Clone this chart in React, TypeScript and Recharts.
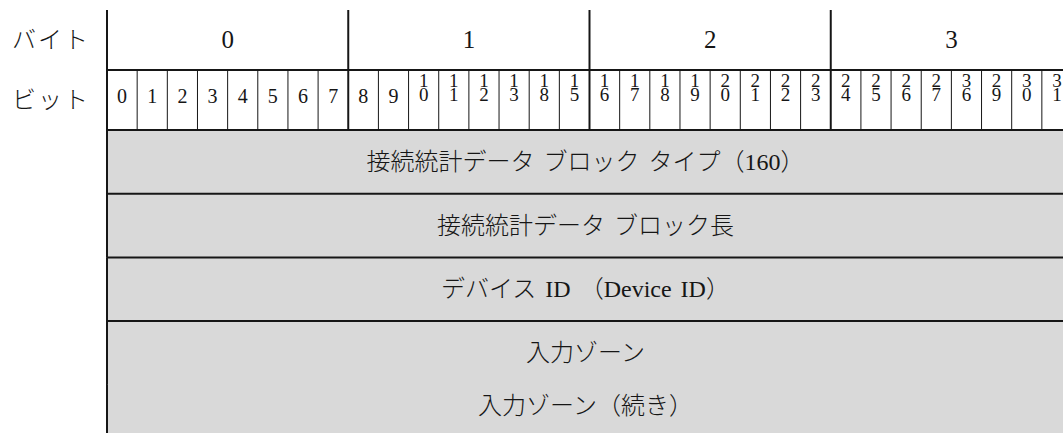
import React from 'react'
import { BarChart, Bar, XAxis, YAxis } from 'recharts'

// header rows: byte numbers and bit numbers (labels as printed, incl. the typos 18 / 36)
const HEADER_NAMES = ['バイト', 'ビット']
const BYTE_LABELS = ['0', '1', '2', '3']
const BIT_LABELS = [
  '0', '1', '2', '3', '4', '5', '6', '7',
  '8', '9', '10', '11', '12', '13', '18', '15',
  '16', '17', '18', '19', '20', '21', '22', '23',
  '24', '25', '26', '27', '36', '29', '30', '31',
]
const BITS_PER_BYTE = 8

// field rows
const FIELD_NAMES = [
  '接続統計データ ブロック タイプ（160）',
  '接続統計データ ブロック長',
  'デバイス ID （Device ID）',
  '入力ゾーン',
  '入力ゾーン（続き）',
]
const FIELD_BITS = [32, 32, 32, 32, 32]
const FIELD_CONTINUED = [false, false, false, false, true]

const FONT  = "'Liberation Serif', 'Noto Sans CJK JP', serif"
const GRAY  = '#d9d9d9'
const INK   = '#161616'
const TOTAL = BIT_LABELS.length

const headerData = [
  {
    name: HEADER_NAMES[0], kind: 'byte', labels: BYTE_LABELS,
    ...Object.fromEntries(BYTE_LABELS.map((_, i) => [`c${i}`, BITS_PER_BYTE])),
  },
  {
    name: HEADER_NAMES[1], kind: 'bit', labels: BIT_LABELS,
    ...Object.fromEntries(BIT_LABELS.map((_, i) => [`c${i}`, 1])),
  },
]

const fieldData = FIELD_NAMES.map((name, i) => ({
  name,
  bits: FIELD_BITS[i],
  cont: FIELD_CONTINUED[i],
}))

const textProps = {
  fontFamily: FONT,
  fill: INK,
  textAnchor: 'middle' as const,
  dominantBaseline: 'central' as const,
}

const headerCell = (i: number) => (props: any) => {
  const { x, y, width, height, payload } = props
  const label: string | undefined = payload?.labels?.[i]
  if (label == null || !width) return <g />

  const isByte = payload.kind === 'byte'
  const thick  = isByte || i % BITS_PER_BYTE === 0
  const cx     = x + width / 2
  const digits = label.split('')

  return (
    <g>
      <line x1={x} x2={x} y1={y} y2={y + height} stroke={INK} strokeWidth={thick ? 2 : 1} />
      <line x1={x} x2={x + width} y1={y + height} y2={y + height} stroke={INK} strokeWidth={2} />
      {isByte ? (
        <text {...textProps} x={cx} y={y + height / 2 - 1} fontSize={25}>{label}</text>
      ) : digits.length === 1 ? (
        <text {...textProps} x={cx} y={y + height / 2 - 4} fontSize={20}>{label}</text>
      ) : (
        // two-digit numbers are stacked, one digit per line
        <text {...textProps} x={cx} y={y + 10} fontSize={19}>
          {digits.map((d, k) => (
            <tspan key={k} x={cx} dy={k === 0 ? 0 : 14}>{d}</tspan>
          ))}
        </text>
      )}
    </g>
  )
}

const fieldCell = (props: any) => {
  const { x, y, width, height, payload } = props
  if (!width) return <g />
  const ty = payload.cont ? y + height / 2 - 11 : y + height / 2
  return (
    <g>
      <rect x={x} y={y} width={width} height={height} fill={GRAY} />
      {!payload.cont && (
        <line x1={x} x2={x + width} y1={y} y2={y} stroke={INK} strokeWidth={2} />
      )}
      <line x1={x} x2={x} y1={y} y2={y + height} stroke={INK} strokeWidth={2} />
      <text {...textProps} x={x + width / 2 - 4} y={ty} fontSize={24} fontWeight={300} wordSpacing={3}>
        {payload.name}
      </text>
    </g>
  )
}

const RowTick = (props: any) => {
  const { y, payload } = props
  return (
    <text
      x={12}
      y={y}
      fontFamily={FONT}
      fontSize={24}
      fontWeight={300}
      fill={INK}
      dominantBaseline="central"
      letterSpacing={2}
    >
      {payload.value}
    </text>
  )
}

export default function App() {
  return (
    <div style={{ position: 'fixed', left: 0, top: 0, width: 1063, height: 433, overflow: 'hidden', background: '#fff' }}>
      <div style={{ position: 'absolute', left: 0, top: 0 }}>
        <BarChart
          width={1100}
          height={132}
          data={headerData}
          layout="vertical"
          barCategoryGap={0}
          margin={{ top: 10, right: 28, bottom: 2, left: 0 }}
        >
          <XAxis type="number" domain={[0, TOTAL]} hide />
          <YAxis
            type="category"
            dataKey="name"
            width={107}
            axisLine={false}
            tickLine={false}
            tick={<RowTick />}
          />
          {BIT_LABELS.map((_, i) => (
            <Bar
              key={i}
              dataKey={`c${i}`}
              stackId="h"
              isAnimationActive={false}
              shape={headerCell(i)}
            />
          ))}
        </BarChart>
      </div>

      <div style={{ position: 'absolute', left: 0, top: 120 }}>
        <BarChart
          width={1100}
          height={340}
          data={fieldData}
          layout="vertical"
          barCategoryGap={0}
          margin={{ top: 10, right: 28, bottom: 11.5, left: 107 }}
        >
          <XAxis type="number" domain={[0, TOTAL]} hide />
          <YAxis type="category" dataKey="name" hide />
          <Bar dataKey="bits" isAnimationActive={false} shape={fieldCell} />
        </BarChart>
      </div>
    </div>
  )
}
